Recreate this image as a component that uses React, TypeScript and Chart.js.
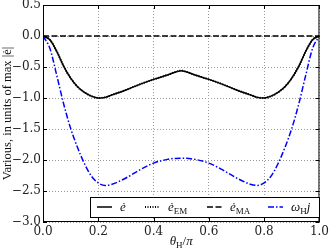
import React, { useEffect, useRef } from 'react';
import { Chart, registerables } from 'chart.js';
Chart.register(...registerables);

const theta = [0, 0.025, 0.05, 0.075, 0.1, 0.125, 0.15, 0.175, 0.2, 0.225, 0.25, 0.3, 0.35, 0.4, 0.45, 0.5, 0.55, 0.6, 0.65, 0.7, 0.75, 0.775, 0.8, 0.825, 0.85, 0.875, 0.9, 0.925, 0.95, 0.975, 1.0];
const eDot = [0, -0.06, -0.25, -0.49, -0.68, -0.82, -0.91, -0.97, -1.0, -0.99, -0.95, -0.87, -0.78, -0.7, -0.63, -0.56, -0.63, -0.7, -0.78, -0.87, -0.95, -0.99, -1.0, -0.97, -0.91, -0.82, -0.68, -0.49, -0.25, -0.06, 0];
const eDotEM = [0, -0.06, -0.25, -0.49, -0.68, -0.82, -0.91, -0.97, -1.0, -0.99, -0.95, -0.87, -0.78, -0.7, -0.63, -0.56, -0.63, -0.7, -0.78, -0.87, -0.95, -0.99, -1.0, -0.97, -0.91, -0.82, -0.68, -0.49, -0.25, -0.06, 0];
const eDotMA = [0, 0, 0, 0, 0, 0, 0, 0, 0, 0, 0, 0, 0, 0, 0, 0, 0, 0, 0, 0, 0, 0, 0, 0, 0, 0, 0, 0, 0, 0, 0];
const omegaHj = [0, -0.2, -0.64, -1.1, -1.49, -1.8, -2.06, -2.26, -2.37, -2.41, -2.39, -2.29, -2.16, -2.05, -1.99, -1.97, -1.99, -2.05, -2.16, -2.29, -2.39, -2.41, -2.37, -2.26, -2.06, -1.8, -1.49, -1.1, -0.64, -0.2, 0];

const xMin = 0, xMax = 1, xStep = 0.2;
const yMin = -3, yMax = 0.5, yStep = 0.5;

type Part = { t: string; it?: boolean; sub?: boolean };
const legendLabels: Part[][] = [
  [{ t: 'ė', it: true }],
  [{ t: 'ė', it: true }, { t: 'EM', sub: true }],
  [{ t: 'ė', it: true }, { t: 'MA', sub: true }],
  [{ t: 'ω', it: true }, { t: 'H', sub: true }, { t: 'j', it: true }],
];
const yTitle = 'Various, in units of max |ė|';
const xTitle: Part[] = [{ t: 'θ', it: true }, { t: 'H', sub: true }, { t: '/' }, { t: 'π', it: true }];

const SERIF = '"Liberation Serif", serif';
const TICKFONT = '"DejaVu Serif", serif';

function drawRich(ctx: CanvasRenderingContext2D, parts: Part[], x: number, y: number, size: number, align: 'left' | 'center') {
  const fontFor = (p: Part) => (p.sub ? `${Math.round(size * 0.7)}px ${SERIF}` : `${p.it ? 'italic ' : ''}${size}px ${SERIF}`);
  let total = 0;
  for (const p of parts) { ctx.font = fontFor(p); total += ctx.measureText(p.t).width; }
  let cx = align === 'center' ? x - total / 2 : x;
  ctx.textAlign = 'left';
  ctx.textBaseline = 'alphabetic';
  for (const p of parts) {
    ctx.font = fontFor(p);
    ctx.fillText(p.t, cx, p.sub ? y + size * 0.25 : y);
    cx += ctx.measureText(p.t).width;
  }
}

const fmt = (v: number) => {
  const s = Math.abs(v).toFixed(1);
  return v < -1e-9 ? '\u2212' + s : s;
};

export default function App() {
  const ref = useRef<HTMLCanvasElement>(null);
  useEffect(() => {
    document.body.style.margin = '0';
    const canvas = ref.current!;
    const mk = (ys: number[]) => theta.map((x, i) => ({ x, y: ys[i] }));

    const overlay = {
      id: 'overlay',
      afterDatasetsDraw(chart: any) {
        const { ctx, chartArea: a, scales } = chart;
        ctx.save();
        ctx.strokeStyle = '#000';
        ctx.lineWidth = 1;
        ctx.setLineDash([]);
        ctx.strokeRect(a.left + 0.5, a.top + 0.5, a.right - a.left - 1, a.bottom - a.top - 1);
        ctx.beginPath();
        for (const t of scales.x.ticks) {
          const px = Math.round(scales.x.getPixelForValue(t.value)) + 0.5;
          ctx.moveTo(px, a.bottom); ctx.lineTo(px, a.bottom - 4);
          ctx.moveTo(px, a.top); ctx.lineTo(px, a.top + 4);
        }
        for (const t of scales.y.ticks) {
          const py = Math.round(scales.y.getPixelForValue(t.value)) + 0.5;
          ctx.moveTo(a.left, py); ctx.lineTo(a.left + 4, py);
          ctx.moveTo(a.right, py); ctx.lineTo(a.right - 4, py);
        }
        ctx.stroke();
        ctx.restore();
      },
      afterDraw(chart: any) {
        const { ctx, chartArea: a } = chart;
        ctx.save();
        ctx.fillStyle = '#111';
        drawRich(ctx, xTitle, (a.left + a.right) / 2, 245, 13, 'center');
        ctx.save();
        ctx.translate(11, (a.top + a.bottom) / 2);
        ctx.rotate(-Math.PI / 2);
        ctx.font = `12.5px ${SERIF}`;
        ctx.textAlign = 'center';
        ctx.textBaseline = 'alphabetic';
        ctx.fillText(yTitle, 0, 0);
        ctx.restore();
        const bx = 90, by = 197, bw = 229, bh = 20;
        ctx.fillStyle = '#fff';
        ctx.fillRect(bx, by, bw, bh);
        ctx.strokeStyle = '#000';
        ctx.lineWidth = 1;
        ctx.setLineDash([]);
        ctx.strokeRect(bx + 0.5, by + 0.5, bw, bh);
        const sx = [97, 145, 207, 268];
        const ly = by + bh / 2;
        chart.data.datasets.forEach((ds: any, i: number) => {
          ctx.strokeStyle = ds.borderColor;
          ctx.lineWidth = ds.borderWidth;
          ctx.setLineDash(ds.borderDash || []);
          ctx.beginPath();
          ctx.moveTo(sx[i], ly);
          ctx.lineTo(sx[i] + 15, ly);
          ctx.stroke();
          ctx.setLineDash([]);
          ctx.fillStyle = '#111';
          drawRich(ctx, legendLabels[i], sx[i] + 23, ly + 4, 13, 'left');
        });
        ctx.restore();
      },
    };

    const chart = new Chart(canvas, {
      type: 'line',
      data: {
        datasets: [
          { label: 'e', data: mk(eDot), borderColor: '#000', borderWidth: 1.5, borderDash: [], pointRadius: 0, cubicInterpolationMode: 'monotone', fill: false },
          { label: 'eEM', data: mk(eDotEM), borderColor: '#000', borderWidth: 2, borderDash: [1, 1.5], pointRadius: 0, cubicInterpolationMode: 'monotone', fill: false },
          { label: 'eMA', data: mk(eDotMA), borderColor: '#000', borderWidth: 1.5, borderDash: [6, 2.5], pointRadius: 0, fill: false },
          { label: 'wHj', data: mk(omegaHj), borderColor: '#0000ff', borderWidth: 1.5, borderDash: [6, 2, 1.5, 2], pointRadius: 0, cubicInterpolationMode: 'monotone', fill: false },
        ],
      },
      options: {
        animation: false,
        responsive: true,
        maintainAspectRatio: false,
        layout: { padding: { top: 4, right: 9, left: 0, bottom: 0 } },
        plugins: { legend: { display: false }, tooltip: { enabled: false } },
        scales: {
          x: {
            type: 'linear', min: xMin, max: xMax,
            afterFit: (s: any) => { s.height = 27; },
            ticks: { stepSize: xStep, padding: 3, color: '#222', font: { family: TICKFONT, size: 12 }, callback: (v: any) => fmt(Number(v)), maxRotation: 0, autoSkip: false },
            grid: { color: '#9a9a9a', lineWidth: 1, drawTicks: false },
            border: { display: false, dash: [1, 2] },
          },
          y: {
            type: 'linear', min: yMin, max: yMax,
            afterFit: (s: any) => { s.width = 43; },
            ticks: { stepSize: yStep, padding: 2, color: '#222', font: { family: TICKFONT, size: 12, lineHeight: 0.5 }, callback: (v: any) => fmt(Number(v)), autoSkip: false },
            grid: { color: '#9a9a9a', lineWidth: 1, drawTicks: false },
            border: { display: false, dash: [1, 2] },
          },
        },
      } as any,
      plugins: [overlay],
    });
    return () => chart.destroy();
  }, []);
  return (
    <div style={{ width: 332, height: 249, position: 'relative' }}>
      <canvas ref={ref} />
    </div>
  );
}
